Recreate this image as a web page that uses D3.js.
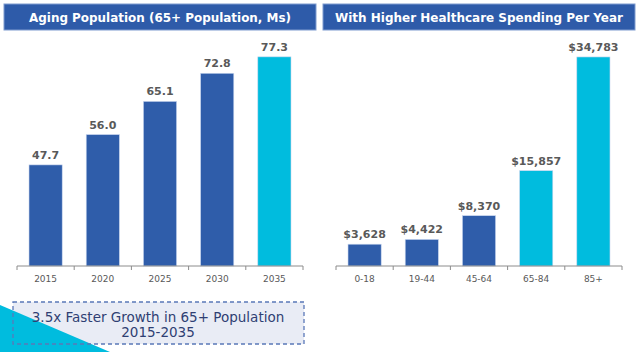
<!DOCTYPE html>
<html>
<head>
<meta charset="utf-8">
<script src="https://cdn.jsdelivr.net/npm/d3@7"></script>
<style>
  body { margin: 0; background: #fff; }
  svg { display: block; font-family: Verdana, "DejaVu Sans", sans-serif; }
</style>
</head>
<body>
<svg id="chart" width="640" height="352"></svg>
<script>
// left panel: 65+ population (millions)
let years = ["2015", "2020", "2025", "2030", "2035"];
let popValues = [47.7, 56.0, 65.1, 72.8, 77.3];
let popLabels = ["47.7", "56.0", "65.1", "72.8", "77.3"];

// right panel: spending per year by age group
let ageGroups = ["0-18", "19-44", "45-64", "65-84", "85+"];
let spendValues = [3628, 4422, 8370, 15857, 34783];
let spendLabels = ["$3,628", "$4,422", "$8,370", "$15,857", "$34,783"];

let titles = ["Aging Population (65+ Population, Ms)", "With Higher Healthcare Spending Per Year"];
let calloutLines = ["3.5x Faster Growth in 65+ Population", "2015-2035"];

const darkBlue = "#2F5DAA";
const cyan = "#00BCDE";
const svg = d3.select("#chart");

/**
 * Draw one panel: title bar, bars, value labels, x axis
 */
function panel(x0, x1, cats, vals, labels, domain, highlight, title, titleWidth) {
    let g = svg.append("g");

    g.append("rect")
        .attr("x", x0 - 13).attr("y", 4)
        .attr("width", x1 - x0 + 26).attr("height", 26)
        .attr("fill", "#2E5BA9")
        .attr("stroke", "#7F9CCF").attr("stroke-width", 1);
    g.append("text")
        .attr("x", (x0 + x1) / 2).attr("y", 21.5)
        .attr("text-anchor", "middle")
        .attr("fill", "#fff")
        .attr("font-size", 12).attr("font-weight", "bold")
        .attr("textLength", titleWidth)
        .attr("lengthAdjust", "spacingAndGlyphs")
        .text(title);

    let xScale = d3.scaleBand()
        .domain(cats)
        .range([x0, x1])
        .paddingInner(0.42)
        .paddingOuter(0.21);
    let yScale = d3.scaleLinear()
        .domain(domain)
        .range([266, 47]);

    g.selectAll("rect.bar").data(vals).enter().append("rect")
        .attr("class", "bar")
        .attr("x", (d, i) => xScale(cats[i]))
        .attr("y", d => yScale(d))
        .attr("width", xScale.bandwidth())
        .attr("height", d => 266 - yScale(d))
        .attr("fill", (d, i) => i >= highlight ? cyan : darkBlue)
        .attr("stroke", "#C9D6EE").attr("stroke-width", 0.6);

    g.selectAll("text.val").data(vals).enter().append("text")
        .attr("class", "val")
        .attr("x", (d, i) => xScale(cats[i]) + xScale.bandwidth() / 2)
        .attr("y", d => yScale(d) - 6)
        .attr("text-anchor", "middle")
        .attr("fill", "#595959")
        .attr("font-size", 11).attr("font-weight", "bold")
        .text((d, i) => labels[i]);

    // axis with ticks at band boundaries
    let axis = g.append("g").attr("transform", "translate(0,266)");
    axis.append("line")
        .attr("x1", x0).attr("x2", x1)
        .attr("stroke", "#8C8C8C");
    axis.selectAll("line.tick").data(d3.range(cats.length + 1)).enter().append("line")
        .attr("class", "tick")
        .attr("x1", i => x0 + i * (x1 - x0) / cats.length)
        .attr("x2", i => x0 + i * (x1 - x0) / cats.length)
        .attr("y1", 0).attr("y2", 4)
        .attr("stroke", "#8C8C8C");
    axis.selectAll("text").data(cats).enter().append("text")
        .attr("x", d => xScale(d) + xScale.bandwidth() / 2)
        .attr("y", 16)
        .attr("text-anchor", "middle")
        .attr("fill", "#595959")
        .attr("font-size", 9)
        .text(d => d);
}

panel(17, 303, years, popValues, popLabels, [20, 80], 4, titles[0], 262);
panel(336, 622, ageGroups, spendValues, spendLabels, [0, 36440], 3, titles[1], 288);

// callout box with cyan corner triangle
svg.append("rect")
    .attr("x", 13).attr("y", 302).attr("width", 291).attr("height", 42)
    .attr("fill", "#E9ECF5");
svg.append("path")
    .attr("d", "M0,305 L110,352 L0,352 Z")
    .attr("fill", cyan);
svg.append("rect")
    .attr("x", 13).attr("y", 302).attr("width", 291).attr("height", 42)
    .attr("fill", "none")
    .attr("stroke", "#5A78B8").attr("stroke-width", 1.3)
    .attr("stroke-dasharray", "4,3");
svg.selectAll("text.callout").data(calloutLines).enter().append("text")
    .attr("class", "callout")
    .attr("x", 158)
    .attr("y", (d, i) => 322 + i * 15)
    .attr("text-anchor", "middle")
    .attr("fill", "#2F3F73")
    .attr("font-size", 13.5)
    .text(d => d);
</script>
</body>
</html>
